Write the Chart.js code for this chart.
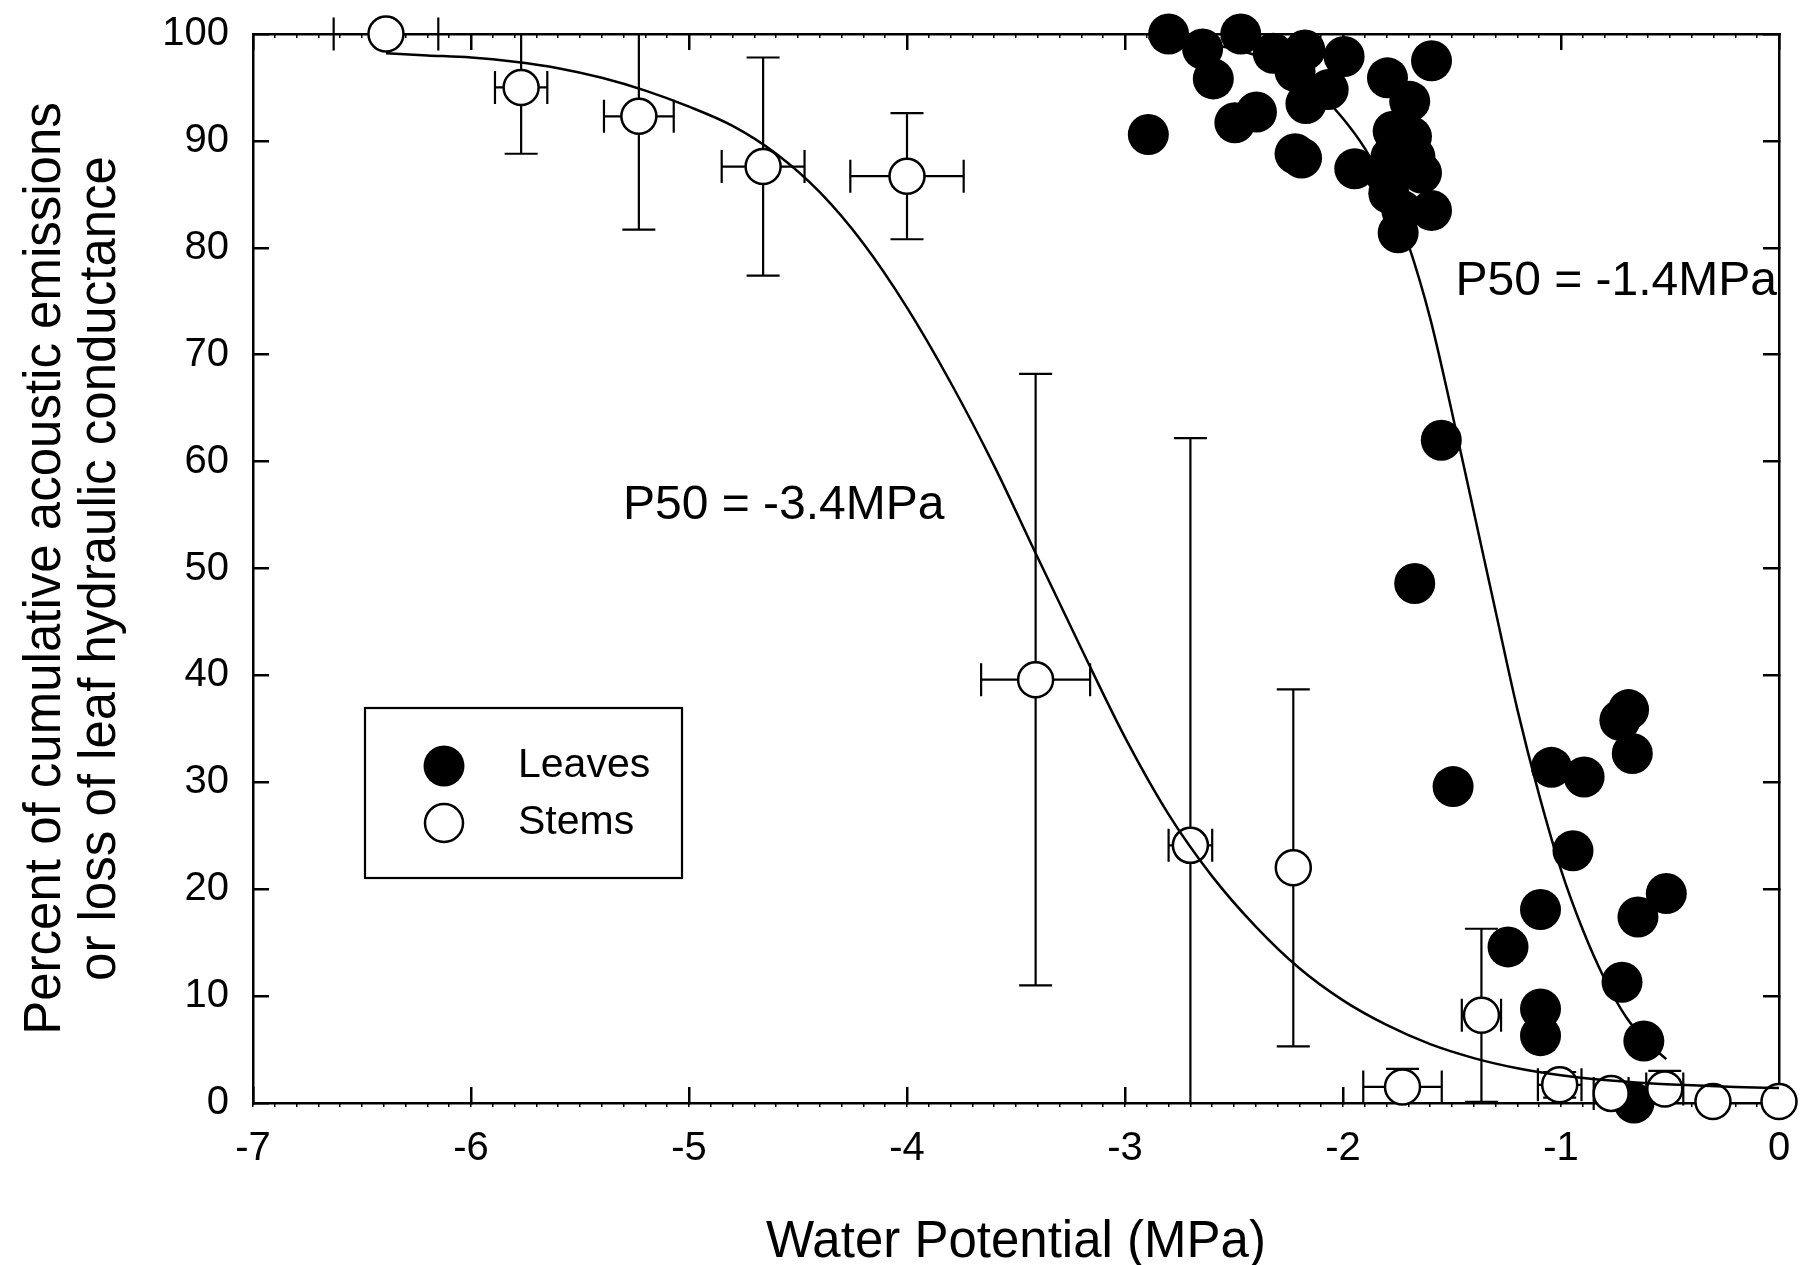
<!DOCTYPE html>
<html>
<head>
<meta charset="utf-8">
<style>
  html, body { margin: 0; padding: 0; background: #fff; }
  #wrap { width: 1800px; height: 1265px; }
</style>
<script src="https://cdn.jsdelivr.net/npm/chart.js@4.4.1/dist/chart.umd.min.js"></script>
</head>
<body>
<div id="wrap"><canvas id="chart" width="1800" height="1265"></canvas></div>
<script>
// leaves (filled circles)
const leafX = [-2.80, -2.644, -2.595, -2.469, -2.893, -2.496, -2.397, -2.32, -2.175, -2.22,
               -2.17, -2.068, -1.995, -2.22, -2.19, -1.946, -1.796, -1.594, -1.694, -1.77,
               -1.686, -1.67, -1.64, -1.81, -1.78, -1.79, -1.594, -1.747, -1.73,
               -1.549, -1.671,
               -1.495, -1.044, -0.894, -0.73, -0.69, -0.673, -0.945, -0.517, -0.647, -1.094,
               -1.243, -0.72, -1.094, -1.094, -0.62, -0.665];
const leafY = [100, 98.6, 95.8, 100, 90.6, 91.7, 92.7, 98.2, 98.5, 96.5,
               93.5, 94.8, 97.9, 88.8, 88.4, 87.4, 95.9, 97.5, 93.7, 90.9,
               90.4, 88.5, 87.0, 87.0, 88.5, 85.1, 83.5, 81.4, 83.5,
               62.0, 48.6,
               29.6, 31.4, 30.5, 35.8, 36.8, 32.7, 23.6, 19.6, 17.4, 18.1,
               14.6, 11.3, 8.8, 6.3, 5.8, 0];

// stems (open circles) with error bars
const stemX = [-6.39, -5.77, -5.23, -4.66, -4.0, -3.41, -2.70, -2.228, -1.727, -1.365, -1.006, -0.77, -0.524, -0.303, 0.0];
const stemY = [100, 95.0, 92.3, 87.6, 86.7, 39.6, 24.1, 22.0, 1.5, 8.2, 1.7, 0.9, 1.3, 0.15, 0.15];
const stemXErr = [0.24, 0.12, 0.16, 0.19, 0.26, 0.25, 0.10, 0, 0.18, 0.09, 0.10, 0.08, 0.085, 0, 0];
const stemYErr = [0, 6.2, 10.6, 10.2, 5.9, 28.6, 38.1, 16.7, 1.7, 8.1, 1.2, 0, 1.7, 0, 0];

// fitted curves
const stemFitX = [-6.39, -6.2, -6.0, -5.8, -5.6, -5.4, -5.2, -5.0, -4.8, -4.6, -4.4, -4.2, -4.0,
                  -3.8, -3.6, -3.4, -3.2, -3.0, -2.8, -2.6, -2.4, -2.2, -2.0, -1.8, -1.6,
                  -1.4, -1.2, -1.0, -0.8, -0.6, -0.4, -0.2, 0];
const stemFitY = [98.2, 98.0, 97.8, 97.4, 96.8, 95.9, 94.7, 93.2, 91.4, 88.8, 85.2, 80.4, 74.4,
                  67.4, 59.6, 51.0, 42.5, 34.2, 27.0, 21.2, 16.5, 12.6, 9.6, 7.3, 5.5,
                  4.2, 3.25, 2.6, 2.15, 1.85, 1.65, 1.5, 1.4];
const leafFitX = [-2.893, -2.8, -2.7, -2.6, -2.5, -2.4, -2.3, -2.2, -2.1, -2.0, -1.9, -1.8, -1.7,
                  -1.6, -1.5, -1.4, -1.3, -1.2, -1.1, -1.0, -0.9, -0.8, -0.7, -0.6, -0.517];
const leafFitY = [99.6, 99.5, 99.3, 99.0, 98.6, 98.0, 97.1, 95.9, 94.3, 92.1, 89.3, 85.5, 80.3,
                  73.4, 64.6, 55.3, 46.0, 36.8, 28.8, 21.8, 16.2, 11.6, 8.0, 5.6, 4.1];

const xRange = [-7, 0];
const yRange = [0, 100];
const xTitle = "Water Potential (MPa)";
const yTitle = ["Percent of cumulative acoustic emissions", "or loss of leaf hydraulic conductance"];
const p50Text = ["P50 = -3.4MPa", "P50 = -1.4MPa"];
const p50AtX = [-5.303, -1.484];
const p50AtY = [55.9, 76.8];

const pts = (xs, ys) => xs.map((x, i) => ({ x: x, y: ys[i] }));

Chart.defaults.font.family = "'Liberation Sans', Arial, sans-serif";
Chart.defaults.color = "#000";

const errorBars = {
    id: "errorBars",
    beforeDatasetDraw(chart, args) {
        if (args.index !== 2) return;
        const { ctx } = chart;
        const x = chart.scales.x, y = chart.scales.y;
        const cap = 16.5;
        ctx.save();
        ctx.strokeStyle = "#000";
        ctx.lineWidth = 2.2;
        stemX.forEach((sx, i) => {
            const px = x.getPixelForValue(sx);
            const py = y.getPixelForValue(stemY[i]);
            if (stemYErr[i] > 0) {
                const hi = stemY[i] + stemYErr[i], lo = stemY[i] - stemYErr[i];
                const top = y.getPixelForValue(Math.min(hi, yRange[1]));
                const bot = y.getPixelForValue(Math.max(lo, yRange[0]));
                ctx.beginPath();
                ctx.moveTo(px, top); ctx.lineTo(px, bot);
                if (hi <= yRange[1]) { ctx.moveTo(px - cap, top); ctx.lineTo(px + cap, top); }
                if (lo >= yRange[0]) { ctx.moveTo(px - cap, bot); ctx.lineTo(px + cap, bot); }
                ctx.stroke();
            }
            if (stemXErr[i] > 0) {
                const l = x.getPixelForValue(sx - stemXErr[i]);
                const r = x.getPixelForValue(sx + stemXErr[i]);
                ctx.beginPath();
                ctx.moveTo(l, py); ctx.lineTo(r, py);
                ctx.moveTo(l, py - cap); ctx.lineTo(l, py + cap);
                ctx.moveTo(r, py - cap); ctx.lineTo(r, py + cap);
                ctx.stroke();
            }
        });
        ctx.restore();
    }
};

const labelsAndLegend = {
    id: "labelsAndLegend",
    afterDraw(chart) {
        const { ctx, chartArea } = chart;
        const x = chart.scales.x, y = chart.scales.y;
        ctx.save();
        ctx.fillStyle = "#000";
        ctx.textBaseline = "middle";
        ctx.textAlign = "left";
        ctx.font = "48px 'Liberation Sans', Arial, sans-serif";
        p50Text.forEach((t, i) => {
            ctx.fillText(t, x.getPixelForValue(p50AtX[i]), y.getPixelForValue(p50AtY[i]));
        });

        // legend box
        const left = chartArea.left + 112, top = chartArea.top + 674;
        const w = 317, h = 170;
        ctx.lineWidth = 2.2;
        ctx.strokeStyle = "#000";
        ctx.strokeRect(left, top, w, h);
        const entries = [chart.data.datasets[3], chart.data.datasets[2]];
        ctx.font = "41px 'Liberation Sans', Arial, sans-serif";
        entries.forEach((ds, i) => {
            const cy = top + 58 + i * 57;
            const cx = left + 79;
            ctx.beginPath();
            ctx.arc(cx, cy, i === 0 ? 20.5 : 19, 0, Math.PI * 2);
            ctx.fillStyle = ds.backgroundColor;
            ctx.fill();
            if (i === 1) { ctx.lineWidth = 2.5; ctx.stroke(); }
            ctx.fillStyle = "#000";
            ctx.fillText(ds.label, left + 153, cy);
        });
        ctx.restore();
    }
};

const axisGrid = (len, width) => ({ drawOnChartArea: false, tickLength: len, lineWidth: width, color: "#000" });

// keep the plot box where it is in the original: no extra edge padding from tick labels
const noEdgePad = s => { s.paddingTop = 0; s.paddingBottom = 0; s.paddingLeft = 0; s.paddingRight = 0; };

new Chart(document.getElementById("chart"), {
    type: "scatter",
    data: {
        datasets: [
            {
                label: "Stems fit",
                data: pts(stemFitX, stemFitY),
                showLine: true, pointRadius: 0, borderColor: "#000", borderWidth: 2.5,
                cubicInterpolationMode: "monotone", clip: false
            },
            {
                label: "Leaves fit",
                data: pts(leafFitX, leafFitY),
                showLine: true, pointRadius: 0, borderColor: "#000", borderWidth: 2.5,
                cubicInterpolationMode: "monotone", clip: false
            },
            {
                label: "Stems",
                data: pts(stemX, stemY),
                pointRadius: 17.5, backgroundColor: "#fff", borderColor: "#000", borderWidth: 2.5, clip: false
            },
            {
                label: "Leaves",
                data: pts(leafX, leafY),
                pointRadius: 20.5, backgroundColor: "#000", borderColor: "#000", borderWidth: 0, clip: false
            }
        ]
    },
    options: {
        responsive: false,
        animation: false,
        events: [],
        layout: { padding: { left: 0, top: 34, right: 21, bottom: 0 } },
        plugins: { legend: { display: false }, tooltip: { enabled: false } },
        scales: {
            x: {
                type: "linear", position: "bottom", min: xRange[0], max: xRange[1], weight: 1,
                ticks: { stepSize: 1, autoSkip: false, padding: 38, font: { size: 40 }, color: "#000" },
                grid: axisGrid(-16, 2.5),
                border: { display: true, width: 2.5, color: "#000" },
                title: { display: true, text: xTitle, font: { size: 51, lineHeight: 0.86 }, padding: 0, color: "#000" },
                afterFit: s => { s.height = 162; noEdgePad(s); }
            },
            xMinor: {
                type: "linear", position: "bottom", min: xRange[0], max: xRange[1], weight: 0,
                ticks: { display: false, stepSize: 0.1, autoSkip: false },
                grid: axisGrid(4, 1.5),
                border: { display: false },
                afterFit: s => { s.height = 0; noEdgePad(s); }
            },
            xTop: {
                type: "linear", position: "top", min: xRange[0], max: xRange[1], weight: 1,
                ticks: { display: false, stepSize: 1, autoSkip: false },
                grid: axisGrid(-16, 2.5),
                border: { display: true, width: 2.5, color: "#000" },
                afterFit: s => { s.height = 0; noEdgePad(s); }
            },
            xTopMinor: {
                type: "linear", position: "top", min: xRange[0], max: xRange[1], weight: 0,
                ticks: { display: false, stepSize: 0.1, autoSkip: false },
                grid: axisGrid(-4, 1.5),
                border: { display: false },
                afterFit: s => { s.height = 0; noEdgePad(s); }
            },
            y: {
                type: "linear", position: "left", min: yRange[0], max: yRange[1],
                ticks: { stepSize: 10, autoSkip: false, padding: 40, font: { size: 40 }, color: "#000" },
                grid: axisGrid(-16, 2.5),
                border: { display: true, width: 2.5, color: "#000" },
                title: { display: true, text: yTitle, font: { size: 51, lineHeight: 1.08 }, padding: { top: 18, bottom: 0 }, color: "#000" },
                afterFit: s => { s.width = 253; noEdgePad(s); }
            },
            yRight: {
                type: "linear", position: "right", min: yRange[0], max: yRange[1],
                ticks: { display: false, stepSize: 10, autoSkip: false },
                grid: axisGrid(-16, 2.5),
                border: { display: true, width: 2.5, color: "#000" },
                afterFit: s => { s.width = 0; noEdgePad(s); }
            }
        }
    },
    plugins: [errorBars, labelsAndLegend]
});
</script>
</body>
</html>
